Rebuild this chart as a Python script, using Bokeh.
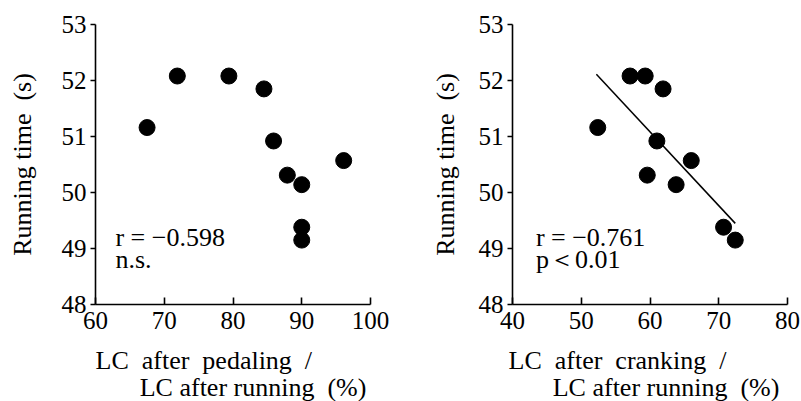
import numpy as np
from bokeh.plotting import figure
from bokeh.layouts import row
from bokeh.models import Label, FixedTicker, Title
from bokeh.embed import file_html
from bokeh.resources import INLINE

# ---- data ----
running_time = [51.16, 52.08, 52.08, 51.85, 50.92, 50.31, 50.14, 50.57, 49.38, 49.15]
lc_pedaling = [67.5, 71.9, 79.4, 84.5, 85.9, 87.9, 90.0, 96.1, 90.0, 90.0]
lc_cranking = [52.4, 57.1, 59.3, 61.9, 61.0, 59.6, 63.8, 66.0, 70.7, 72.4]

x_ticks_left = [60, 70, 80, 90, 100]
x_ticks_right = [40, 50, 60, 70, 80]
y_ticks = [48, 49, 50, 51, 52, 53]

SP = "\u2002"
IND = "\u2003\u2002\u2009"
ylabel = "Running time" + SP + "(s)"
xlabel_left = ["LC" + SP + "after" + SP + "pedaling" + SP + "/", "LC after running" + SP + "(%)"]
xlabel_right = ["LC" + SP + "after" + SP + "cranking" + SP + "/", "LC after running" + SP + "(%)"]
stats_left = ["r = \u22120.598", "n.s."]
stats_right = ["r = \u22120.761", "p\uff1c0.01"]

FONT = "Liberation Serif"
FS_TICK = "25px"
FS = "26px"


def make_panel(xs, ys, xticks, bl, br, bt, xlab, stats, stat_x, ylab_standoff,
               off1, fit=False):
    x0, x1 = xticks[0], xticks[-1]
    p = figure(frame_width=275, frame_height=280, x_range=(x0, x1), y_range=(48, 53),
               output_backend="svg", toolbar_location=None,
               min_border_left=bl, min_border_right=br, min_border_top=bt, min_border_bottom=0)
    p.outline_line_color = None
    p.grid.visible = False
    p.background_fill_color = "white"
    p.border_fill_color = "white"

    p.xaxis.ticker = FixedTicker(ticks=xticks)
    p.yaxis.ticker = FixedTicker(ticks=y_ticks)
    for ax in (p.xaxis[0], p.yaxis[0]):
        ax.axis_line_color = "black"
        ax.axis_line_width = 1.6
        ax.major_tick_line_color = "black"
        ax.major_tick_line_width = 1.6
        ax.minor_tick_line_color = None
        ax.major_label_text_font = FONT
        ax.major_label_text_font_size = FS_TICK
        ax.major_label_text_color = "black"
    p.xaxis.major_tick_in = 7
    p.xaxis.major_tick_out = 0
    p.xaxis.major_label_standoff = 7
    p.yaxis.major_tick_in = 0
    p.yaxis.major_tick_out = 5
    p.yaxis.major_label_standoff = 4

    p.yaxis.axis_label = ylabel
    p.yaxis.axis_label_text_font = FONT
    p.yaxis.axis_label_text_font_size = FS
    p.yaxis.axis_label_text_font_style = "normal"
    p.yaxis.axis_label_text_color = "black"
    p.yaxis.axis_label_standoff = ylab_standoff

    p.scatter(xs, ys, size=16, color="black")

    if fit:
        k, b = np.polyfit(xs, ys, 1)
        fx = np.array([min(xs) - 0.2, max(xs)])
        p.line(fx, k * fx + b, line_color="black", line_width=1.5)

    # stats text
    p.add_layout(Label(x=stat_x, y=49.19, text=stats[0], text_font=FONT, text_font_size=FS,
                       text_baseline="alphabetic", text_align="left", text_color="black"))
    p.add_layout(Label(x=stat_x, y=48.80, text=stats[1], text_font=FONT, text_font_size=FS,
                       text_baseline="alphabetic", text_align="left", text_color="black"))

    # x-axis label (two lines, second line indented) as a title below the axis
    t = Title(text=xlab[0] + "\n" + IND + xlab[1], align="left", offset=off1,
              text_font=FONT, text_font_size=FS, text_line_height=0.92,
              text_font_style="normal", text_color="black", standoff=25)
    p.add_layout(t, "below")
    return p


p1 = make_panel(lc_pedaling, running_time, x_ticks_left, 95, 30, 23,
                xlabel_left, stats_left, 62.9, 22, 0)
p2 = make_panel(lc_cranking, running_time, x_ticks_right, 112, 14, 24,
                xlabel_right, stats_right, 43.4, 16, -4, fit=True)

layout = row(p1, p2)
open("out.html", "w").write(file_html(layout, INLINE))
